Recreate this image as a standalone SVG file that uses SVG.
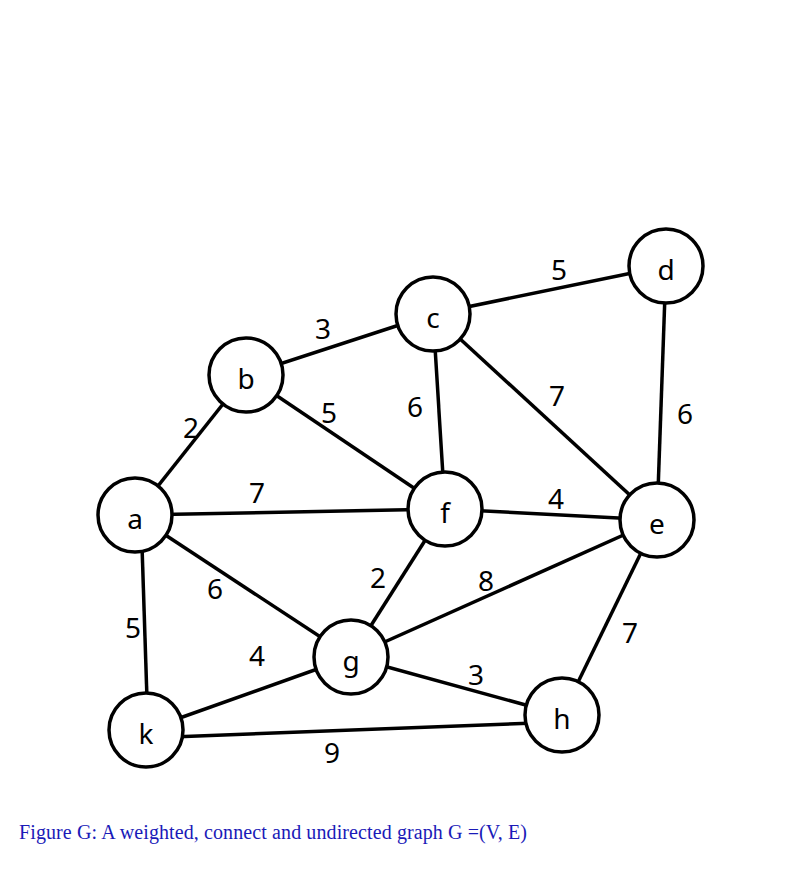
<svg xmlns="http://www.w3.org/2000/svg" width="805" height="871" viewBox="0 0 805 871">
<style>
.n circle{fill:#fff;stroke:#000;stroke-width:3.5}
.n text,.w{font-family:"Noto Sans","Open Sans",sans-serif;font-size:28px;fill:#000;text-anchor:middle;dominant-baseline:central}
#edges line{stroke:#000;stroke-width:3.5}
.cap{font-family:"Liberation Serif",serif;font-size:20px;fill:#1a1ab8}
</style>
<rect width="805" height="871" fill="#fff"/>
<g id="edges">
<line x1="135" y1="515" x2="246" y2="375"/>
<line x1="246" y1="375" x2="433" y2="314"/>
<line x1="433" y1="314" x2="666" y2="266"/>
<line x1="246" y1="375" x2="445" y2="509"/>
<line x1="433" y1="314" x2="445" y2="509"/>
<line x1="433" y1="314" x2="657" y2="520"/>
<line x1="666" y1="266" x2="657" y2="520"/>
<line x1="135" y1="515" x2="445" y2="509"/>
<line x1="445" y1="509" x2="657" y2="520"/>
<line x1="135" y1="515" x2="351" y2="657"/>
<line x1="445" y1="509" x2="351" y2="657"/>
<line x1="351" y1="657" x2="657" y2="520"/>
<line x1="141" y1="515" x2="148" y2="730"/>
<line x1="146" y1="730" x2="351" y2="657"/>
<line x1="351" y1="657" x2="562" y2="715"/>
<line x1="657" y1="520" x2="562" y2="715"/>
<line x1="146" y1="738" x2="562" y2="722"/>
</g>
<g id="weights">
<text class="w" x="191" y="427">2</text>
<text class="w" x="323" y="328">3</text>
<text class="w" x="559" y="269">5</text>
<text class="w" x="329" y="412">5</text>
<text class="w" x="415" y="406">6</text>
<text class="w" x="557" y="395">7</text>
<text class="w" x="685" y="413">6</text>
<text class="w" x="257" y="492">7</text>
<text class="w" x="556" y="498">4</text>
<text class="w" x="215" y="588">6</text>
<text class="w" x="378" y="577">2</text>
<text class="w" x="486" y="580">8</text>
<text class="w" x="133" y="627">5</text>
<text class="w" x="257" y="655">4</text>
<text class="w" x="476" y="674">3</text>
<text class="w" x="630" y="632">7</text>
<text class="w" x="332" y="752">9</text>
</g>
<g id="a" class="n"><circle cx="135" cy="515" r="37"/><text x="135" y="518">a</text></g>
<g id="b" class="n"><circle cx="246" cy="375" r="37"/><text x="246" y="378">b</text></g>
<g id="c" class="n"><circle cx="433" cy="314" r="37"/><text x="433" y="317">c</text></g>
<g id="d" class="n"><circle cx="666" cy="266" r="37"/><text x="666" y="269">d</text></g>
<g id="e" class="n"><circle cx="657" cy="520" r="37"/><text x="657" y="523">e</text></g>
<g id="f" class="n"><circle cx="445" cy="509" r="37"/><text x="445" y="512">f</text></g>
<g id="g" class="n"><circle cx="351" cy="657" r="37"/><text x="351" y="660">g</text></g>
<g id="h" class="n"><circle cx="562" cy="715" r="37"/><text x="562" y="718">h</text></g>
<g id="k" class="n"><circle cx="146" cy="730" r="37"/><text x="146" y="733">k</text></g>
<text class="cap" x="19" y="839" textLength="508" lengthAdjust="spacing">Figure G: A weighted, connect and undirected graph G =(V, E)</text>
</svg>
